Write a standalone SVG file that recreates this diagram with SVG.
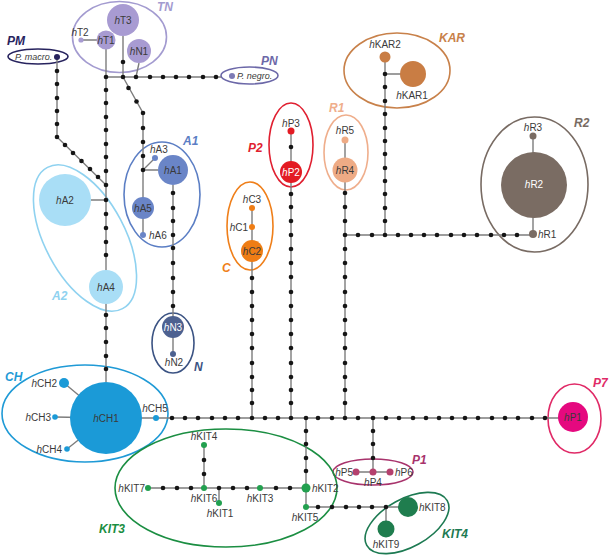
<svg xmlns="http://www.w3.org/2000/svg" width="609" height="557" viewBox="0 0 609 557">
<style>
.ln{fill:none;stroke:#7d7d7d;stroke-width:1.4}
.d{fill:#151515}
.t{font-family:"Liberation Sans",Arial,sans-serif;font-size:10px;fill:#3a3a3a}
.s{font-size:9px}
.w{fill:#ffffff}
.i{font-style:italic}
.g{font-family:"Liberation Sans",Arial,sans-serif;font-size:12px;font-weight:bold;font-style:italic}
.e{fill:none;stroke-width:1.6}
</style>
<g id="groups">
<g id="grp-TN"><ellipse class="e" cx="119.5" cy="37" rx="47" ry="35.5" stroke="#a39bd0"/><text class="g" x="157" y="11" fill="#a39bd0">TN</text></g>
<g id="grp-PM"><ellipse class="e" cx="38" cy="56.5" rx="30" ry="7.5" stroke="#27235e" stroke-width="2"/><text class="g" x="7" y="45" fill="#27235e">PM</text></g>
<g id="grp-PN"><ellipse class="e" cx="249.5" cy="75.5" rx="28.5" ry="8.5" stroke="#6c68a8"/><text class="g" x="261" y="65" fill="#6c68a8">PN</text></g>
<g id="grp-A1"><ellipse class="e" cx="162" cy="194.5" rx="38" ry="52.5" stroke="#5b7ec4"/><text class="g" x="183" y="145" fill="#5b7ec4">A1</text></g>
<g id="grp-A2"><ellipse class="e" cx="85" cy="238" rx="40" ry="80" transform="rotate(-28 85 238)" stroke="#8fd2f0"/><text class="g" x="52" y="300" fill="#8fd2f0">A2</text></g>
<g id="grp-N"><ellipse class="e" cx="173" cy="343" rx="21" ry="30" stroke="#3b5383"/><text class="g" x="194" y="371" fill="#3b5383">N</text></g>
<g id="grp-CH"><ellipse class="e" cx="85" cy="413.5" rx="83" ry="48.5" stroke="#1f9ad6"/><text class="g" x="5" y="381" fill="#1f9ad6">CH</text></g>
<g id="grp-C"><ellipse class="e" cx="250" cy="226" rx="23" ry="44" stroke="#ef7f1a"/><text class="g" x="222" y="272" fill="#ef7f1a">C</text></g>
<g id="grp-P2"><ellipse class="e" cx="291" cy="145" rx="22" ry="42" stroke="#e01f30"/><text class="g" x="248" y="152" fill="#e01f30">P2</text></g>
<g id="grp-R1"><ellipse class="e" cx="346" cy="152.5" rx="22" ry="37.5" stroke="#efae8c"/><text class="g" x="329" y="112" fill="#efae8c">R1</text></g>
<g id="grp-KAR"><ellipse class="e" cx="397" cy="70.5" rx="53" ry="37.5" stroke="#c8814a"/><text class="g" x="439" y="42" fill="#c8814a">KAR</text></g>
<g id="grp-R2"><ellipse class="e" cx="534.5" cy="184.5" rx="53.5" ry="67.5" stroke="#786b63"/><text class="g" x="574" y="127" fill="#786b63">R2</text></g>
<g id="grp-P7"><ellipse class="e" cx="574.5" cy="418.5" rx="26.5" ry="34.5" stroke="#e02a67"/><text class="g" x="593" y="387" fill="#e02a67">P7</text></g>
<g id="grp-P1"><ellipse class="e" cx="373" cy="472" rx="40" ry="13" stroke="#a8336c"/><text class="g" x="412" y="464" fill="#a8336c">P1</text></g>
<g id="grp-KIT3"><ellipse class="e" cx="226" cy="488" rx="111" ry="59" stroke="#1b8e42"/><text class="g" x="99" y="533" fill="#1b8e42">KIT3</text></g>
<g id="grp-KIT4"><ellipse class="e" cx="407" cy="523" rx="46" ry="24" transform="rotate(-29 407 523)" stroke="#1d7a52"/><text class="g" x="442" y="538" fill="#1d7a52">KIT4</text></g>
</g>
<g id="connectors">
<path class="ln" d="M81 40H106M106 40V382M123 36V77M106 77H221M139 63L136 77M123 77L143 113V235M143 170H158M143 170L155 158M173 185V354M91 200H106M57 57V137L106 185M64 383L106 418M55 417L106 418M67 449L106 418M106 418H573M252 208V418M291 131V418M345 140V418M345 235H533M385 57V235M385 74H413M533 136V234M306 418V507M148 488H306M204 445V488M219 488V503M306 507H408M386 507V529M373 418V472M356 472H390"/>
<g class="d">
<circle cx="106" cy="77" r="2.3"/><circle cx="123" cy="77" r="2.3"/><circle cx="136" cy="77" r="2.3"/><circle cx="150" cy="77" r="2.3"/><circle cx="163" cy="77" r="2.3"/><circle cx="176" cy="77" r="2.3"/><circle cx="189" cy="77" r="2.3"/><circle cx="203" cy="77" r="2.3"/><circle cx="216" cy="77" r="2.3"/>
<circle cx="106" cy="90" r="2.3"/><circle cx="106" cy="103" r="2.3"/><circle cx="106" cy="117" r="2.3"/><circle cx="106" cy="130" r="2.3"/><circle cx="106" cy="144" r="2.3"/><circle cx="106" cy="157" r="2.3"/><circle cx="106" cy="171" r="2.3"/><circle cx="106" cy="185" r="2.3"/><circle cx="106" cy="200" r="2.3"/><circle cx="106" cy="214" r="2.3"/><circle cx="106" cy="228" r="2.3"/><circle cx="106" cy="242" r="2.3"/><circle cx="106" cy="255" r="2.3"/><circle cx="106" cy="315" r="2.3"/><circle cx="106" cy="328" r="2.3"/><circle cx="106" cy="342" r="2.3"/><circle cx="106" cy="356" r="2.3"/><circle cx="106" cy="369" r="2.3"/>
<circle cx="123" cy="62" r="2.3"/>
<circle cx="57" cy="71" r="2.3"/><circle cx="57" cy="84" r="2.3"/><circle cx="57" cy="98" r="2.3"/><circle cx="57" cy="111" r="2.3"/><circle cx="57" cy="124" r="2.3"/><circle cx="57" cy="137" r="2.3"/>
<circle cx="65" cy="145" r="2.3"/><circle cx="73" cy="153" r="2.3"/><circle cx="81.5" cy="161" r="2.3"/><circle cx="90" cy="169" r="2.3"/><circle cx="98" cy="177" r="2.3"/>
<circle cx="128.5" cy="88" r="2.3"/><circle cx="136.5" cy="101.5" r="2.3"/><circle cx="143" cy="113" r="2.3"/>
<circle cx="143" cy="128" r="2.3"/><circle cx="143" cy="142" r="2.3"/><circle cx="143" cy="156" r="2.3"/><circle cx="143" cy="170" r="2.3"/>
<circle cx="173" cy="193" r="2.3"/><circle cx="173" cy="208" r="2.3"/><circle cx="173" cy="221" r="2.3"/><circle cx="173" cy="235" r="2.3"/><circle cx="173" cy="248" r="2.3"/><circle cx="173" cy="263" r="2.3"/><circle cx="173" cy="278" r="2.3"/><circle cx="173" cy="292" r="2.3"/><circle cx="173" cy="306" r="2.3"/>
<circle cx="252" cy="278" r="2.3"/><circle cx="252" cy="292" r="2.3"/><circle cx="252" cy="306" r="2.3"/><circle cx="252" cy="320" r="2.3"/><circle cx="252" cy="334" r="2.3"/><circle cx="252" cy="348" r="2.3"/><circle cx="252" cy="363" r="2.3"/><circle cx="252" cy="377" r="2.3"/><circle cx="252" cy="390" r="2.3"/><circle cx="252" cy="403" r="2.3"/>
<circle cx="291" cy="147" r="2.3"/><circle cx="291" cy="194" r="2.3"/><circle cx="291" cy="207" r="2.3"/><circle cx="291" cy="221" r="2.3"/><circle cx="291" cy="235" r="2.3"/><circle cx="291" cy="249" r="2.3"/><circle cx="291" cy="263" r="2.3"/><circle cx="291" cy="277" r="2.3"/><circle cx="291" cy="292" r="2.3"/><circle cx="291" cy="306" r="2.3"/><circle cx="291" cy="320" r="2.3"/><circle cx="291" cy="334" r="2.3"/><circle cx="291" cy="348" r="2.3"/><circle cx="291" cy="363" r="2.3"/><circle cx="291" cy="377" r="2.3"/><circle cx="291" cy="390" r="2.3"/><circle cx="291" cy="403" r="2.3"/>
<circle cx="345" cy="193" r="2.3"/><circle cx="345" cy="207" r="2.3"/><circle cx="345" cy="221" r="2.3"/><circle cx="345" cy="235" r="2.3"/><circle cx="345" cy="249" r="2.3"/><circle cx="345" cy="263" r="2.3"/><circle cx="345" cy="277" r="2.3"/><circle cx="345" cy="292" r="2.3"/><circle cx="345" cy="306" r="2.3"/><circle cx="345" cy="320" r="2.3"/><circle cx="345" cy="334" r="2.3"/><circle cx="345" cy="348" r="2.3"/><circle cx="345" cy="363" r="2.3"/><circle cx="345" cy="377" r="2.3"/><circle cx="345" cy="390" r="2.3"/><circle cx="345" cy="403" r="2.3"/>
<circle cx="358" cy="235" r="2.3"/><circle cx="372" cy="235" r="2.3"/><circle cx="385" cy="235" r="2.3"/><circle cx="398" cy="235" r="2.3"/><circle cx="411" cy="235" r="2.3"/><circle cx="424" cy="235" r="2.3"/><circle cx="437" cy="235" r="2.3"/><circle cx="451" cy="235" r="2.3"/><circle cx="464" cy="235" r="2.3"/><circle cx="477" cy="235" r="2.3"/><circle cx="491" cy="235" r="2.3"/><circle cx="504" cy="235" r="2.3"/><circle cx="517" cy="235" r="2.3"/>
<circle cx="385" cy="74" r="2.3"/><circle cx="385" cy="87" r="2.3"/><circle cx="385" cy="101" r="2.3"/><circle cx="385" cy="114" r="2.3"/><circle cx="385" cy="128" r="2.3"/><circle cx="385" cy="141" r="2.3"/><circle cx="385" cy="154" r="2.3"/><circle cx="385" cy="168" r="2.3"/><circle cx="385" cy="181" r="2.3"/><circle cx="385" cy="194" r="2.3"/><circle cx="385" cy="208" r="2.3"/><circle cx="385" cy="221" r="2.3"/>
<circle cx="172" cy="418" r="2.3"/><circle cx="185" cy="418" r="2.3"/><circle cx="198" cy="418" r="2.3"/><circle cx="212" cy="418" r="2.3"/><circle cx="225" cy="418" r="2.3"/><circle cx="238" cy="418" r="2.3"/><circle cx="252" cy="418" r="2.3"/><circle cx="265" cy="418" r="2.3"/><circle cx="278" cy="418" r="2.3"/><circle cx="291" cy="418" r="2.3"/><circle cx="306" cy="418" r="2.3"/><circle cx="318" cy="418" r="2.3"/><circle cx="332" cy="418" r="2.3"/><circle cx="345" cy="418" r="2.3"/><circle cx="358" cy="418" r="2.3"/><circle cx="373" cy="418" r="2.3"/><circle cx="386" cy="418" r="2.3"/><circle cx="399" cy="418" r="2.3"/><circle cx="413" cy="418" r="2.3"/><circle cx="426" cy="418" r="2.3"/><circle cx="439" cy="418" r="2.3"/><circle cx="452" cy="418" r="2.3"/><circle cx="465" cy="418" r="2.3"/><circle cx="478" cy="418" r="2.3"/><circle cx="492" cy="418" r="2.3"/><circle cx="505" cy="418" r="2.3"/><circle cx="518" cy="418" r="2.3"/><circle cx="532" cy="418" r="2.3"/><circle cx="545" cy="418" r="2.3"/>
<circle cx="306" cy="431" r="2.3"/><circle cx="306" cy="444" r="2.3"/><circle cx="306" cy="458" r="2.3"/><circle cx="306" cy="471" r="2.3"/>
<circle cx="163" cy="488" r="2.3"/><circle cx="177" cy="488" r="2.3"/><circle cx="191" cy="488" r="2.3"/><circle cx="219" cy="488" r="2.3"/><circle cx="233" cy="488" r="2.3"/><circle cx="247" cy="488" r="2.3"/><circle cx="276" cy="488" r="2.3"/><circle cx="290" cy="488" r="2.3"/>
<circle cx="204" cy="460" r="2.3"/><circle cx="204" cy="474" r="2.3"/>
<circle cx="318" cy="507" r="2.3"/><circle cx="332" cy="507" r="2.3"/><circle cx="346" cy="507" r="2.3"/><circle cx="359" cy="507" r="2.3"/><circle cx="372" cy="507" r="2.3"/><circle cx="386" cy="507" r="2.3"/>
<circle cx="373" cy="431" r="2.3"/><circle cx="373" cy="444" r="2.3"/><circle cx="373" cy="458" r="2.3"/>
</g>
</g>
<g id="nodes">
<g id="PM-macro"><circle cx="57" cy="57" r="3" fill="#27235e"/><text class="t s i" x="15" y="60">P. macro.</text></g>
<g id="PN-negro"><circle cx="232" cy="76" r="3" fill="#7d7ab5"/><text class="t s i" x="237" y="79">P. negro.</text></g>
<g id="hT3"><circle cx="123" cy="20" r="16" fill="#a89bd2"/><text class="t" x="123" y="23.5" text-anchor="middle"><tspan class="i">h</tspan>T3</text></g>
<g id="hT1"><circle cx="106" cy="40" r="9.5" fill="#a89bd2"/><text class="t" x="106" y="43.5" text-anchor="middle"><tspan class="i">h</tspan>T1</text></g>
<g id="hT2"><circle cx="81" cy="40" r="2.6" fill="#a89bd2"/><text class="t" x="80" y="35.5" text-anchor="middle"><tspan class="i">h</tspan>T2</text></g>
<g id="hN1"><circle cx="139" cy="51" r="12" fill="#a89bd2"/><text class="t" x="139" y="54.5" text-anchor="middle"><tspan class="i">h</tspan>N1</text></g>
<g id="hA1"><circle cx="173" cy="170" r="15" fill="#6a85c7"/><text class="t" x="173" y="173.5" text-anchor="middle"><tspan class="i">h</tspan>A1</text></g>
<g id="hA3"><circle cx="155" cy="158" r="3" fill="#6a85c7"/><text class="t" x="150" y="152.5"><tspan class="i">h</tspan>A3</text></g>
<g id="hA5"><circle cx="143" cy="208" r="11" fill="#6a85c7"/><text class="t" x="143" y="211.5" text-anchor="middle"><tspan class="i">h</tspan>A5</text></g>
<g id="hA6"><circle cx="143" cy="235" r="3" fill="#6a85c7"/><text class="t" x="149" y="238.5"><tspan class="i">h</tspan>A6</text></g>
<g id="hA2"><circle cx="65" cy="200" r="26" fill="#a9def6"/><text class="t" x="65" y="203.5" text-anchor="middle"><tspan class="i">h</tspan>A2</text></g>
<g id="hA4"><circle cx="106" cy="287" r="17" fill="#a9def6"/><text class="t" x="106" y="290.5" text-anchor="middle"><tspan class="i">h</tspan>A4</text></g>
<g id="hN3"><circle cx="173" cy="327" r="11" fill="#4d6190"/><text class="t w" x="173" y="330.5" text-anchor="middle"><tspan class="i">h</tspan>N3</text></g>
<g id="hN2"><circle cx="173" cy="354" r="3" fill="#4d6190"/><text class="t" x="174" y="366" text-anchor="middle"><tspan class="i">h</tspan>N2</text></g>
<g id="hCH1"><circle cx="106" cy="418" r="36" fill="#1b9ad7"/><text class="t" x="106" y="421.5" text-anchor="middle"><tspan class="i">h</tspan>CH1</text></g>
<g id="hCH2"><circle cx="64" cy="383" r="5" fill="#1b9ad7"/><text class="t" x="57" y="386.5" text-anchor="end"><tspan class="i">h</tspan>CH2</text></g>
<g id="hCH3"><circle cx="55" cy="417" r="2.8" fill="#1b9ad7"/><text class="t" x="51" y="420.5" text-anchor="end"><tspan class="i">h</tspan>CH3</text></g>
<g id="hCH4"><circle cx="67" cy="449" r="2.8" fill="#1b9ad7"/><text class="t" x="62" y="452.5" text-anchor="end"><tspan class="i">h</tspan>CH4</text></g>
<g id="hCH5"><circle cx="156" cy="418" r="3" fill="#1b9ad7"/><text class="t" x="155" y="412" text-anchor="middle"><tspan class="i">h</tspan>CH5</text></g>
<g id="hC3"><circle cx="252" cy="208" r="3" fill="#ef7d15"/><text class="t" x="252" y="203" text-anchor="middle"><tspan class="i">h</tspan>C3</text></g>
<g id="hC1"><circle cx="252" cy="227" r="3" fill="#ef7d15"/><text class="t" x="248" y="230.5" text-anchor="end"><tspan class="i">h</tspan>C1</text></g>
<g id="hC2"><circle cx="252" cy="251" r="11" fill="#ef7d15"/><text class="t" x="252" y="254.5" text-anchor="middle" fill="#2e2e66"><tspan class="i">h</tspan>C2</text></g>
<g id="hP3"><circle cx="291" cy="131" r="3.5" fill="#e31b23"/><text class="t" x="291" y="127" text-anchor="middle"><tspan class="i">h</tspan>P3</text></g>
<g id="hP2"><circle cx="291" cy="172" r="11" fill="#e31b23"/><text class="t w" x="291" y="175.5" text-anchor="middle"><tspan class="i">h</tspan>P2</text></g>
<g id="hR5"><circle cx="345" cy="140" r="3.5" fill="#eeab85"/><text class="t" x="345" y="134" text-anchor="middle"><tspan class="i">h</tspan>R5</text></g>
<g id="hR4"><circle cx="345" cy="170" r="12.5" fill="#eeab85"/><text class="t" x="345" y="173.5" text-anchor="middle"><tspan class="i">h</tspan>R4</text></g>
<g id="hKAR2"><circle cx="385" cy="57" r="5.5" fill="#c97d44"/><text class="t" x="385" y="48" text-anchor="middle"><tspan class="i">h</tspan>KAR2</text></g>
<g id="hKAR1"><circle cx="413" cy="74" r="13" fill="#c97d44"/><text class="t" x="412" y="99" text-anchor="middle"><tspan class="i">h</tspan>KAR1</text></g>
<g id="hR3"><circle cx="533" cy="136" r="3.5" fill="#7a6c63"/><text class="t" x="533" y="131" text-anchor="middle"><tspan class="i">h</tspan>R3</text></g>
<g id="hR2"><circle cx="534" cy="185" r="33" fill="#7a6c63"/><text class="t w" x="534" y="188" text-anchor="middle"><tspan class="i">h</tspan>R2</text></g>
<g id="hR1"><circle cx="533" cy="234" r="4" fill="#7a6c63"/><text class="t" x="538" y="237.5"><tspan class="i">h</tspan>R1</text></g>
<g id="hP1"><circle cx="573" cy="417" r="15" fill="#e5097f"/><text class="t" x="573" y="420.5" text-anchor="middle" fill="#5a2040"><tspan class="i">h</tspan>P1</text></g>
<g id="hP4"><circle cx="373" cy="472" r="3.5" fill="#b5416e"/><text class="t" x="373" y="486" text-anchor="middle"><tspan class="i">h</tspan>P4</text></g>
<g id="hP5"><circle cx="356" cy="472" r="3.5" fill="#b5416e"/><text class="t" x="353" y="475.5" text-anchor="end"><tspan class="i">h</tspan>P5</text></g>
<g id="hP6"><circle cx="390" cy="472" r="3.5" fill="#b5416e"/><text class="t" x="395" y="475.5"><tspan class="i">h</tspan>P6</text></g>
<g id="hKIT4"><circle cx="204" cy="445" r="3" fill="#22a04f"/><text class="t" x="204" y="440" text-anchor="middle"><tspan class="i">h</tspan>KIT4</text></g>
<g id="hKIT7"><circle cx="148" cy="488" r="3" fill="#22a04f"/><text class="t" x="145" y="491.5" text-anchor="end"><tspan class="i">h</tspan>KIT7</text></g>
<g id="hKIT6"><circle cx="204" cy="488" r="3" fill="#22a04f"/><text class="t" x="204" y="502" text-anchor="middle"><tspan class="i">h</tspan>KIT6</text></g>
<g id="hKIT1"><circle cx="219" cy="503" r="3" fill="#22a04f"/><text class="t" x="220" y="517" text-anchor="middle"><tspan class="i">h</tspan>KIT1</text></g>
<g id="hKIT3"><circle cx="260" cy="488" r="3" fill="#22a04f"/><text class="t" x="260" y="502" text-anchor="middle"><tspan class="i">h</tspan>KIT3</text></g>
<g id="hKIT2"><circle cx="306" cy="488" r="4.5" fill="#22a04f"/><text class="t" x="312" y="491.5"><tspan class="i">h</tspan>KIT2</text></g>
<g id="hKIT5"><circle cx="306" cy="507" r="3" fill="#22a04f"/><text class="t" x="305" y="521" text-anchor="middle"><tspan class="i">h</tspan>KIT5</text></g>
<g id="hKIT8"><circle cx="408" cy="507" r="10" fill="#1f7d4e"/><text class="t" x="419" y="510.5"><tspan class="i">h</tspan>KIT8</text></g>
<g id="hKIT9"><circle cx="386" cy="529" r="8.5" fill="#1f7d4e"/><text class="t" x="386" y="548" text-anchor="middle"><tspan class="i">h</tspan>KIT9</text></g>
</g>
</svg>
